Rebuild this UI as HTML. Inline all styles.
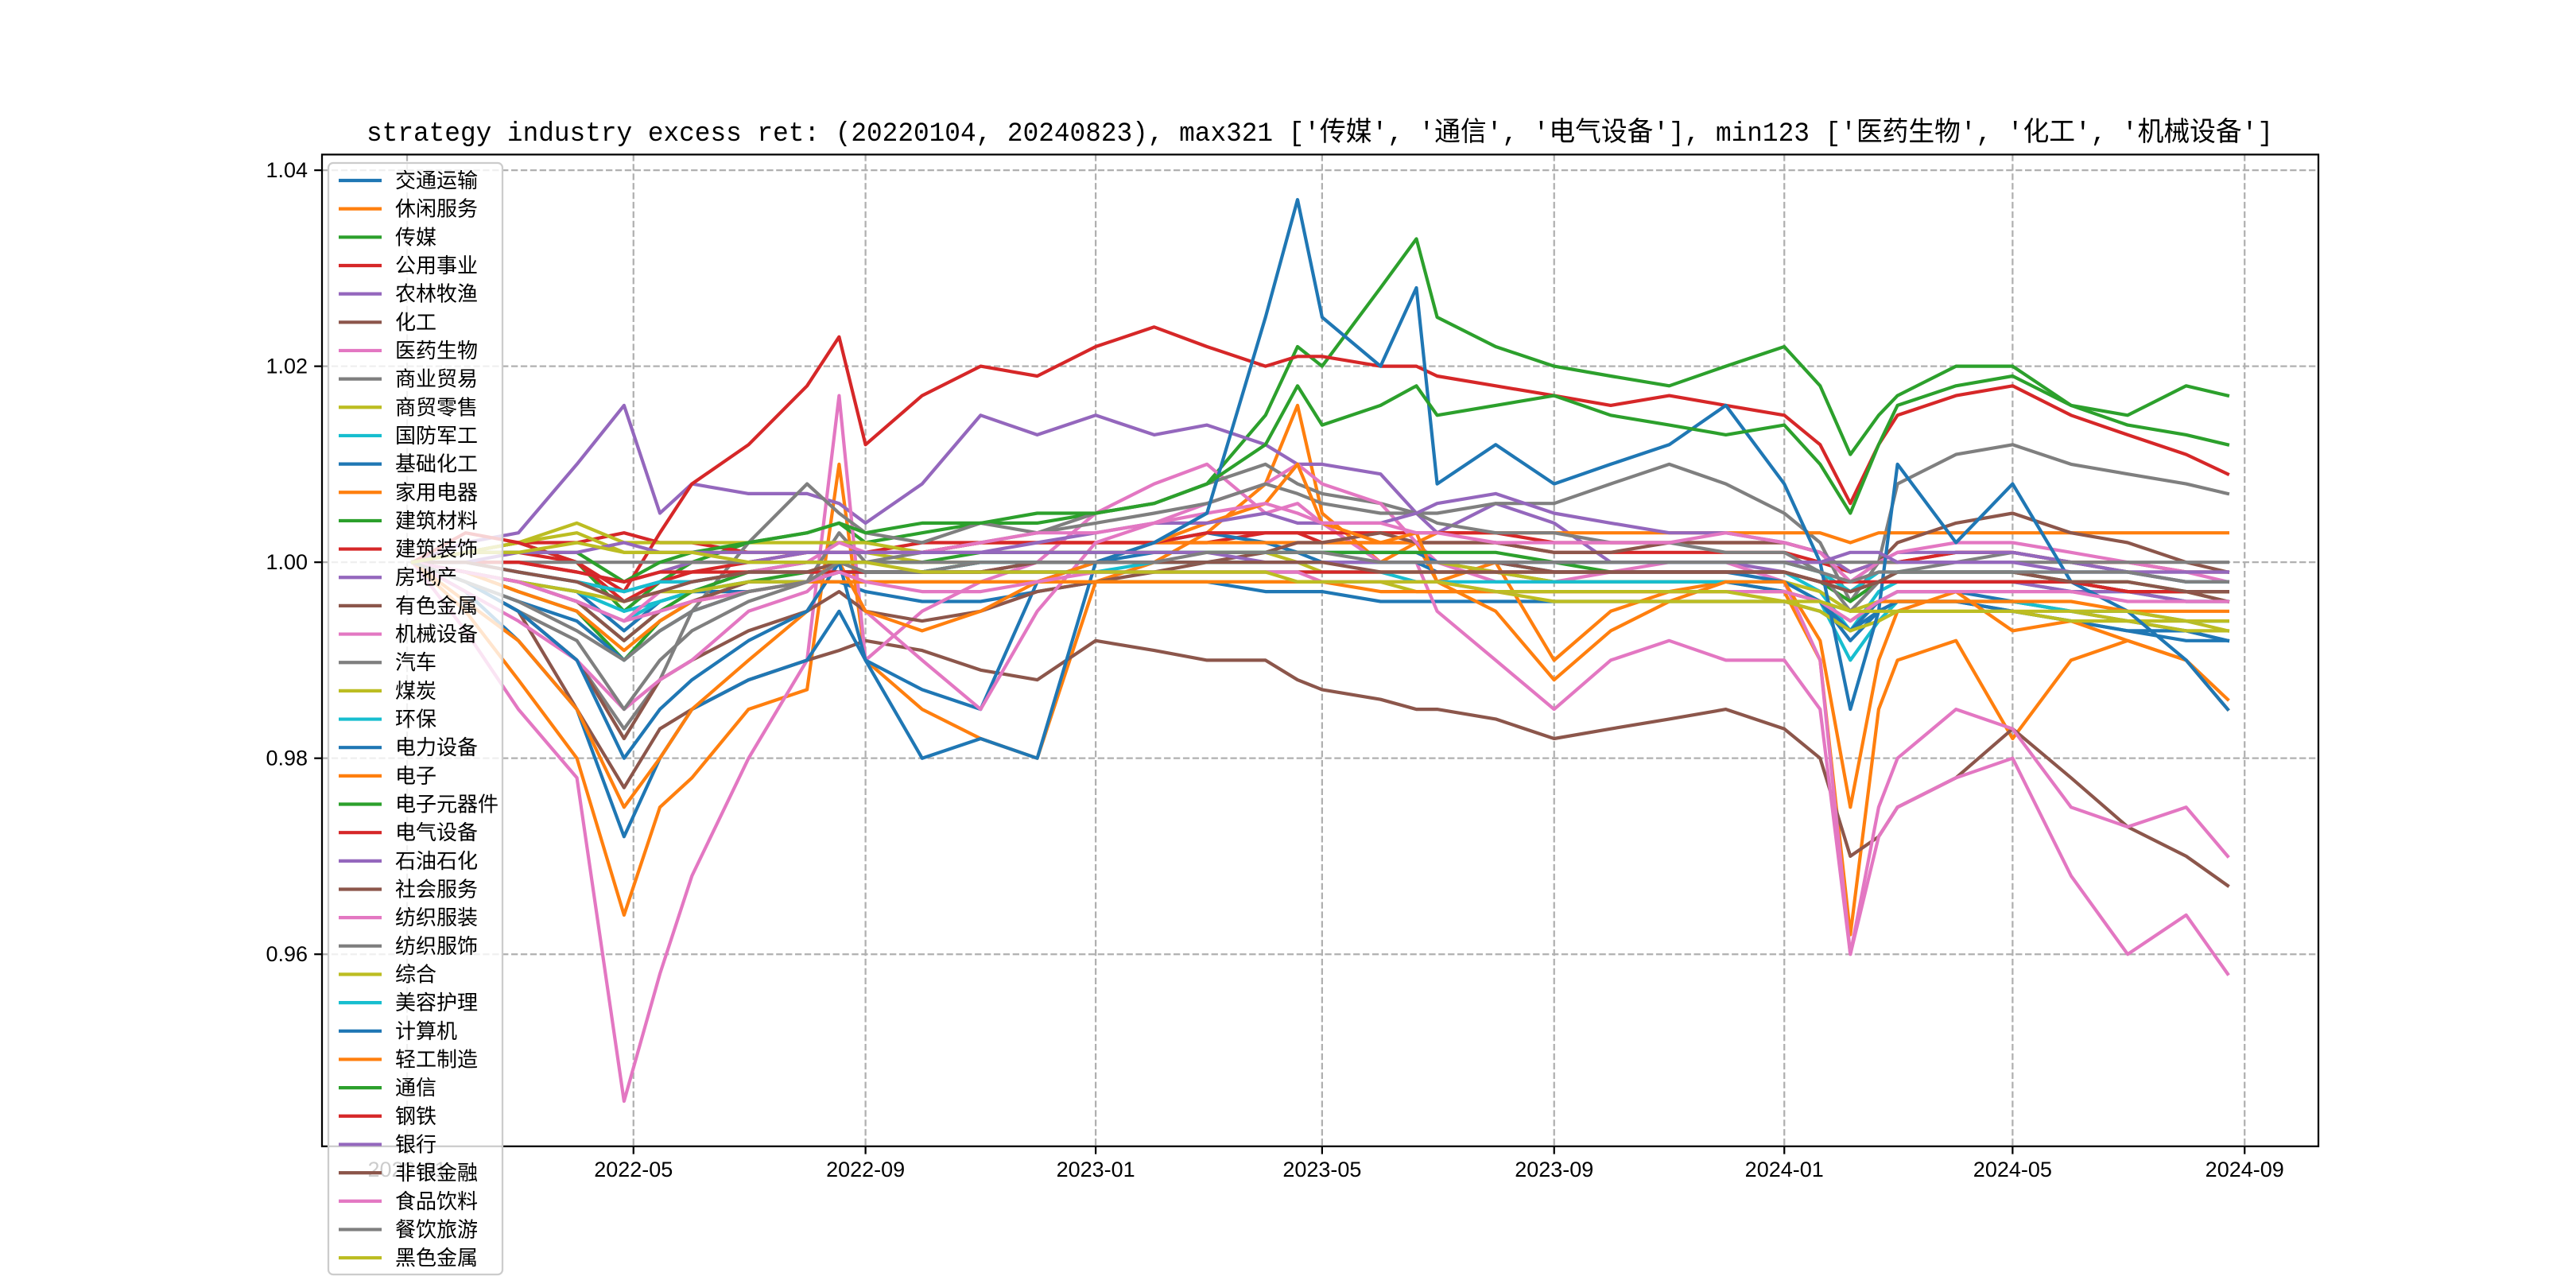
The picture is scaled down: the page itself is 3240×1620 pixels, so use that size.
<!DOCTYPE html>
<html><head><meta charset="utf-8">
<style>
html,body{margin:0;padding:0;background:#fff;}
svg{display:block;}
text{font-family:"Liberation Sans","Noto Sans CJK SC",sans-serif;}
</style></head>
<body>
<svg id="chart" width="3240" height="1620" viewBox="0 0 3240 1620" xmlns="http://www.w3.org/2000/svg">
<rect x="0" y="0" width="3240" height="1620" fill="#ffffff"/>
<text x="1660" y="177" text-anchor="middle" font-size="34" textLength="2398" lengthAdjust="spacingAndGlyphs" style='font-family:"Liberation Mono","Noto Sans CJK SC",monospace'>strategy industry excess ret: (20220104, 20240823), max321 ['传媒', '通信', '电气设备'], min123 ['医药生物', '化工', '机械设备']</text>
<g id="grid"></g>
<g id="lines"></g>
<g id="axes"></g>
<g id="legend"></g>
</svg>
<script>
const dates=["2022-01-04","2022-02-01","2022-03-01","2022-04-01","2022-04-26","2022-05-15","2022-06-01","2022-07-01","2022-08-01","2022-08-18","2022-09-01","2022-10-01","2022-11-01","2022-12-01","2023-01-01","2023-02-01","2023-03-01","2023-04-01","2023-04-18","2023-05-01","2023-06-01","2023-06-20","2023-07-01","2023-08-01","2023-09-01","2023-10-01","2023-11-01","2023-12-01","2024-01-01","2024-01-20","2024-02-05","2024-02-20","2024-03-01","2024-04-01","2024-05-01","2024-06-01","2024-07-01","2024-08-01","2024-08-23"];
const names=["交通运输","休闲服务","传媒","公用事业","农林牧渔","化工","医药生物","商业贸易","商贸零售","国防军工","基础化工","家用电器","建筑材料","建筑装饰","房地产","有色金属","机械设备","汽车","煤炭","环保","电力设备","电子","电子元器件","电气设备","石油石化","社会服务","纺织服装","纺织服饰","综合","美容护理","计算机","轻工制造","通信","钢铁","银行","非银金融","食品饮料","餐饮旅游","黑色金属"];
const yTicks=[0.96,0.98,1.00,1.02,1.04];
const yTickLabels=["0.96","0.98","1.00","1.02","1.04"];
const xTicks=["2022-01-01","2022-05-01","2022-09-01","2023-01-01","2023-05-01","2023-09-01","2024-01-01","2024-05-01","2024-09-01"];
const xTickLabels=["2022-01","2022-05","2022-09","2023-01","2023-05","2023-09","2024-01","2024-05","2024-09"];
const v00=[1.000,0.999,0.998,0.997,0.993,0.996,0.997,0.997,0.998,0.998,0.997,0.996,0.996,0.997,0.998,0.998,0.998,0.997,0.997,0.997,0.996,0.996,0.996,0.996,0.996,0.996,0.996,0.996,0.996,0.995,0.993,0.995,0.996,0.996,0.995,0.994,0.993,0.992,0.992];
const v01=[1.000,0.995,0.988,0.980,0.964,0.975,0.978,0.985,0.987,1.010,0.990,0.985,0.982,0.980,0.998,1.000,1.003,1.008,1.016,1.005,1.000,1.002,0.998,1.000,0.990,0.995,0.997,0.998,0.997,0.990,0.962,0.985,0.990,0.992,0.982,0.990,0.992,0.990,0.985];
const v02=[1.000,1.001,1.002,1.000,0.995,0.998,1.000,1.002,1.003,1.004,1.002,1.003,1.004,1.004,1.005,1.006,1.008,1.015,1.022,1.020,1.028,1.033,1.025,1.022,1.020,1.019,1.018,1.020,1.022,1.018,1.011,1.015,1.017,1.020,1.020,1.016,1.015,1.018,1.017];
const v03=[1.000,1.001,1.002,1.002,1.003,1.002,1.002,1.001,1.001,1.001,1.001,1.002,1.002,1.002,1.002,1.002,1.002,1.003,1.003,1.002,1.002,1.002,1.002,1.002,1.001,1.001,1.001,1.001,1.001,1.000,0.999,1.000,1.000,1.001,1.001,1.000,1.000,0.999,0.999];
const v04=[1.000,1.002,1.003,1.010,1.016,1.005,1.008,1.007,1.007,1.006,1.004,1.008,1.015,1.013,1.015,1.013,1.014,1.012,1.010,1.010,1.009,1.005,1.003,1.006,1.004,1.000,1.000,1.000,0.999,0.998,0.997,0.998,0.999,0.999,0.999,0.998,0.997,0.997,0.996];
const v05=[1.000,0.998,0.995,0.985,0.977,0.983,0.985,0.988,0.990,0.991,0.992,0.991,0.989,0.988,0.992,0.991,0.990,0.990,0.988,0.987,0.986,0.985,0.985,0.984,0.982,0.983,0.984,0.985,0.983,0.980,0.970,0.972,0.975,0.978,0.983,0.978,0.973,0.970,0.967];
const v06=[1.000,0.993,0.985,0.978,0.945,0.958,0.968,0.980,0.990,1.017,0.990,0.995,0.998,1.000,1.005,1.008,1.010,1.005,1.006,1.004,1.000,1.000,0.995,0.990,0.985,0.990,0.992,0.990,0.990,0.985,0.960,0.972,0.975,0.978,0.980,0.968,0.960,0.964,0.958];
const v07=[1.000,0.998,0.995,0.990,0.983,0.988,0.995,1.002,1.008,1.005,1.003,1.002,1.004,1.003,1.005,1.006,1.008,1.010,1.008,1.007,1.006,1.005,1.005,1.006,1.006,1.008,1.010,1.008,1.005,1.002,0.996,1.000,1.008,1.011,1.012,1.010,1.009,1.008,1.007];
const v08=[1.000,1.001,1.002,1.003,1.001,1.001,1.001,1.001,1.001,1.001,1.001,1.000,1.000,1.000,1.000,1.000,1.000,1.000,1.000,0.999,0.999,0.999,0.999,0.999,0.999,0.999,0.999,0.999,0.999,0.998,0.997,0.998,0.998,0.998,0.998,0.998,0.997,0.997,0.996];
const v09=[1.000,0.999,0.998,0.996,0.994,0.996,0.997,0.998,0.998,0.999,0.999,0.999,0.999,0.999,0.999,1.000,1.000,1.000,1.000,1.000,1.000,1.000,1.000,1.000,0.999,0.999,0.999,0.999,0.999,0.997,0.993,0.997,0.998,0.998,0.998,0.997,0.997,0.996,0.996];
const v10=[1.000,0.997,0.992,0.985,0.972,0.980,0.985,0.988,0.990,0.995,0.990,0.987,0.985,0.998,1.000,1.002,1.003,1.002,1.001,1.000,1.000,1.000,0.999,0.999,0.998,0.998,0.998,0.998,0.997,0.996,0.993,0.996,0.997,0.997,0.996,0.995,0.994,0.993,0.992];
const v11=[1.000,1.000,1.000,0.999,0.998,0.999,1.000,1.000,1.001,1.001,1.001,1.001,1.002,1.002,1.002,1.002,1.002,1.002,1.002,1.002,1.002,1.002,1.003,1.003,1.003,1.003,1.003,1.003,1.003,1.003,1.002,1.003,1.003,1.003,1.003,1.003,1.003,1.003,1.003];
const v12=[1.000,0.999,0.997,0.995,0.990,0.994,0.996,0.998,0.999,0.999,0.999,0.999,1.000,1.000,1.000,1.000,1.000,1.000,1.000,1.000,1.000,1.000,1.000,1.000,1.000,0.999,0.999,0.999,0.999,0.998,0.996,0.998,0.998,0.998,0.998,0.998,0.997,0.997,0.997];
const v13=[1.000,1.001,1.001,1.000,0.996,0.998,0.999,1.000,1.001,1.001,1.001,1.001,1.002,1.002,1.002,1.002,1.003,1.003,1.003,1.003,1.003,1.003,1.003,1.003,1.002,1.002,1.002,1.002,1.002,1.001,0.999,1.000,1.000,1.001,1.001,1.000,0.999,0.998,0.998];
const v14=[1.000,1.000,0.999,0.998,0.997,0.998,0.998,0.999,0.999,0.999,0.999,0.999,0.999,1.000,1.000,1.000,1.000,1.000,1.000,1.000,1.000,1.000,1.000,0.999,0.999,0.999,0.999,0.999,0.999,0.998,0.997,0.998,0.998,0.998,0.998,0.997,0.997,0.996,0.996];
const v15=[1.000,0.998,0.995,0.990,0.982,0.988,0.990,0.993,0.995,0.997,0.995,0.994,0.995,0.997,0.998,0.999,1.000,1.001,1.002,1.002,1.003,1.002,1.002,1.002,1.001,1.001,1.002,1.002,1.002,1.001,0.998,1.000,1.002,1.004,1.005,1.003,1.002,1.000,0.999];
const v16=[1.000,0.997,0.994,0.990,0.985,0.988,0.990,0.995,0.997,1.000,0.995,0.990,0.985,0.995,1.002,1.004,1.006,1.008,1.010,1.008,1.006,1.002,1.000,0.998,0.998,0.999,1.000,1.000,0.998,0.990,0.960,0.975,0.980,0.985,0.983,0.975,0.973,0.975,0.970];
const v17=[1.000,0.998,0.995,0.992,0.985,0.990,0.993,0.996,0.998,1.003,1.000,1.001,1.002,1.003,1.004,1.005,1.006,1.008,1.007,1.006,1.005,1.005,1.004,1.003,1.003,1.002,1.002,1.001,1.001,0.999,0.995,0.998,0.999,1.000,1.001,1.000,0.999,0.999,0.999];
const v18=[1.000,1.001,1.002,1.004,1.002,1.002,1.002,1.002,1.002,1.002,1.002,1.001,1.001,1.001,1.001,1.001,1.001,1.001,1.000,1.000,1.000,1.000,1.000,0.999,0.998,0.998,0.998,0.998,0.998,0.997,0.995,0.996,0.996,0.996,0.996,0.995,0.994,0.994,0.993];
const v19=[1.000,0.999,0.998,0.997,0.995,0.996,0.997,0.998,0.998,0.999,0.999,0.999,0.999,0.999,0.999,0.999,0.999,0.999,0.999,0.999,0.999,0.998,0.998,0.998,0.998,0.998,0.998,0.998,0.998,0.996,0.990,0.994,0.996,0.996,0.996,0.995,0.995,0.994,0.994];
const v20=[1.000,0.998,0.996,0.994,0.990,0.993,0.995,0.997,0.998,0.999,0.999,0.999,1.000,1.000,1.000,1.001,1.001,1.001,1.001,1.001,1.001,1.001,1.000,1.000,0.999,0.999,0.999,0.999,0.998,0.996,0.992,0.995,0.996,0.996,0.995,0.994,0.993,0.993,0.992];
const v21=[1.000,0.996,0.992,0.985,0.975,0.980,0.985,0.990,0.995,1.000,0.995,0.993,0.995,0.998,1.000,1.002,1.004,1.006,1.010,1.004,1.002,1.003,0.998,0.995,0.988,0.993,0.996,0.998,0.998,0.992,0.975,0.990,0.995,0.997,0.993,0.994,0.992,0.990,0.986];
const v22=[1.000,0.999,0.998,0.996,0.992,0.995,0.997,0.999,1.000,1.000,1.000,1.000,1.001,1.001,1.001,1.001,1.001,1.001,1.001,1.001,1.001,1.001,1.001,1.001,1.000,1.000,1.000,1.000,1.000,0.999,0.997,0.998,0.999,0.999,0.999,0.998,0.998,0.997,0.997];
const v23=[1.000,1.003,1.002,1.000,0.997,1.003,1.008,1.012,1.018,1.023,1.012,1.017,1.020,1.019,1.022,1.024,1.022,1.020,1.021,1.021,1.020,1.020,1.019,1.018,1.017,1.016,1.017,1.016,1.015,1.012,1.006,1.012,1.015,1.017,1.018,1.015,1.013,1.011,1.009];
const v24=[1.000,1.000,1.000,0.999,0.998,0.999,1.000,1.000,1.001,1.001,1.001,1.001,1.001,1.002,1.003,1.004,1.004,1.005,1.004,1.004,1.004,1.005,1.006,1.007,1.005,1.004,1.003,1.003,1.002,1.001,0.999,1.000,1.001,1.001,1.001,1.000,0.999,0.998,0.998];
const v25=[1.000,0.999,0.998,0.996,0.992,0.995,0.996,0.998,0.998,0.999,0.999,0.999,0.999,1.000,1.000,1.000,1.000,1.000,1.000,1.000,1.000,1.000,1.000,1.000,0.999,0.999,0.999,0.999,0.999,0.998,0.997,0.998,0.998,0.998,0.998,0.998,0.997,0.997,0.996];
const v26=[1.000,0.999,0.998,0.996,0.994,0.997,0.998,0.999,1.000,1.002,1.001,1.001,1.002,1.003,1.003,1.004,1.005,1.006,1.005,1.004,1.004,1.003,1.003,1.002,1.002,1.002,1.002,1.003,1.002,1.001,0.998,1.000,1.001,1.002,1.002,1.001,1.000,0.999,0.998];
const v27=[1.000,1.000,1.000,1.000,1.000,1.000,1.000,1.000,1.000,1.000,1.000,1.000,1.000,1.000,1.000,1.000,1.000,1.000,1.000,1.000,1.000,1.000,1.000,1.000,1.000,1.000,1.000,1.000,1.000,1.000,1.000,1.000,1.000,1.000,1.000,1.000,1.000,1.000,1.000];
const v28=[1.000,0.999,0.998,0.997,0.996,0.997,0.997,0.998,0.998,0.998,0.998,0.998,0.998,0.998,0.998,0.998,0.998,0.998,0.998,0.998,0.998,0.997,0.997,0.997,0.996,0.996,0.996,0.996,0.996,0.995,0.993,0.994,0.995,0.995,0.995,0.994,0.994,0.993,0.993];
const v29=[1.000,1.000,0.999,0.998,0.997,0.998,0.998,0.999,0.999,0.999,0.999,0.999,1.000,1.000,1.000,1.000,1.000,1.000,1.000,1.000,1.000,1.000,1.000,1.000,1.000,1.000,1.000,1.000,1.000,0.999,0.997,0.999,0.999,0.999,0.999,0.999,0.999,0.998,0.998];
const v30=[1.000,0.998,0.995,0.990,0.980,0.985,0.988,0.992,0.995,1.000,0.990,0.980,0.982,0.980,1.000,1.002,1.005,1.025,1.037,1.025,1.020,1.028,1.008,1.012,1.008,1.010,1.012,1.016,1.008,1.000,0.985,0.995,1.010,1.002,1.008,0.998,0.995,0.990,0.985];
const v31=[1.000,0.999,0.997,0.995,0.991,0.994,0.996,0.997,0.998,0.998,0.998,0.998,0.998,0.998,0.998,0.998,0.998,0.998,0.998,0.998,0.997,0.997,0.997,0.997,0.997,0.997,0.997,0.997,0.997,0.996,0.994,0.996,0.996,0.996,0.996,0.996,0.995,0.995,0.995];
const v32=[1.000,1.001,1.001,1.001,0.998,1.000,1.001,1.002,1.003,1.004,1.003,1.004,1.004,1.005,1.005,1.006,1.008,1.012,1.018,1.014,1.016,1.018,1.015,1.016,1.017,1.015,1.014,1.013,1.014,1.010,1.005,1.012,1.016,1.018,1.019,1.016,1.014,1.013,1.012];
const v33=[1.000,1.000,1.000,0.999,0.998,0.999,0.999,0.999,0.999,0.999,0.999,0.999,0.999,0.999,0.999,0.999,0.999,0.999,0.999,0.999,0.999,0.999,0.999,0.999,0.999,0.999,0.999,0.999,0.999,0.998,0.998,0.998,0.998,0.998,0.998,0.998,0.997,0.997,0.997];
const v34=[1.000,1.000,1.001,1.001,1.002,1.001,1.001,1.001,1.001,1.001,1.001,1.001,1.001,1.001,1.001,1.001,1.001,1.000,1.000,1.000,1.000,1.000,1.000,1.000,1.000,1.000,1.000,1.000,1.000,1.000,1.001,1.001,1.000,1.000,1.000,0.999,0.999,0.999,0.999];
const v35=[1.000,1.000,0.999,0.998,0.996,0.997,0.998,0.999,0.999,1.000,0.999,0.999,0.999,1.000,1.000,1.000,1.000,1.000,1.000,1.000,0.999,0.999,0.999,0.999,0.999,0.999,0.999,0.999,0.999,0.998,0.997,0.998,0.999,0.999,0.999,0.998,0.998,0.997,0.997];
const v36=[1.000,0.999,0.998,0.996,0.994,0.995,0.996,0.997,0.998,0.999,0.998,0.997,0.997,0.998,0.999,0.999,0.999,0.999,0.999,0.998,0.998,0.998,0.998,0.997,0.997,0.997,0.997,0.997,0.997,0.996,0.994,0.996,0.997,0.997,0.997,0.997,0.996,0.996,0.996];
const v37=[1.000,0.998,0.996,0.993,0.990,0.993,0.995,0.997,0.998,1.000,0.999,0.999,1.000,1.000,1.000,1.000,1.001,1.001,1.001,1.001,1.000,1.000,1.000,1.000,1.000,1.000,1.000,1.000,1.000,0.999,0.998,0.999,0.999,0.999,0.999,0.999,0.999,0.998,0.998];
const v38=[1.000,1.001,1.001,1.002,1.001,1.001,1.001,1.000,1.000,1.000,1.000,0.999,0.999,0.999,0.999,0.999,0.999,0.999,0.998,0.998,0.998,0.998,0.998,0.997,0.997,0.997,0.997,0.997,0.996,0.996,0.995,0.995,0.995,0.995,0.995,0.995,0.995,0.994,0.994];
const seriesList=[v00,v01,v02,v03,v04,v05,v06,v07,v08,v09,v10,v11,v12,v13,v14,v15,v16,v17,v18,v19,v20,v21,v22,v23,v24,v25,v26,v27,v28,v29,v30,v31,v32,v33,v34,v35,v36,v37,v38];

const NS="http://www.w3.org/2000/svg";
const palette=["#1f77b4","#ff7f0e","#2ca02c","#d62728","#9467bd","#8c564b","#e377c2","#7f7f7f","#bcbd22","#17becf"];
const AX={l:405,r:2916,t:194.4,b:1441.8};
function dayNum(s){const p=s.split("-");return Date.UTC(+p[0],+p[1]-1,+p[2])/86400000;}
const d0=dayNum(dates[0]), d1=dayNum(dates[dates.length-1]);
const dPad=(d1-d0)*0.05;
function xScale(s){return AX.l+(dayNum(s)-(d0-dPad))/((d1+dPad)-(d0-dPad))*(AX.r-AX.l);}
let allV=[];seriesList.forEach(a=>allV=allV.concat(a));
const vMin=Math.min(...allV), vMax=Math.max(...allV), vPad=(vMax-vMin)*0.05;
const yLo=vMin-vPad, yHi=vMax+vPad;
function yScale(v){return AX.b-(v-yLo)/(yHi-yLo)*(AX.b-AX.t);}
function mk(tag,attrs,parent){const e=document.createElementNS(NS,tag);for(const k in attrs)e.setAttribute(k,attrs[k]);parent.appendChild(e);return e;}

const grid=document.getElementById("grid");
const lines=document.getElementById("lines");
const axes=document.getElementById("axes");
const legend=document.getElementById("legend");

xTicks.forEach((t,i)=>{
  const x=xScale(t);
  const g=mk("line",{x1:x,x2:x,y1:AX.t,y2:AX.b,stroke:"#b0b0b0","stroke-width":2.25,"stroke-dasharray":"8.3 3.6"},grid);
  
  
  const tk=mk("line",{x1:x,x2:x,y1:AX.b,y2:AX.b+9.8,stroke:"#000","stroke-width":2.25},axes);
  
  
  const lb=mk("text",{x:x,y:AX.b+38,"text-anchor":"middle","font-size":27,fill:"#000"},axes);
  lb.textContent=xTickLabels[i];
  
  
});
yTicks.forEach((t,i)=>{
  const y=yScale(t);
  const g=mk("line",{x1:AX.l,x2:AX.r,y1:y,y2:y,stroke:"#b0b0b0","stroke-width":2.25,"stroke-dasharray":"8.3 3.6"},grid);
  
  
  const tk=mk("line",{x1:AX.l-9.8,x2:AX.l,y1:y,y2:y,stroke:"#000","stroke-width":2.25},axes);
  
  
  const lb=mk("text",{x:AX.l-18,y:y+9,"text-anchor":"end","font-size":27,fill:"#000"},axes);
  lb.textContent=yTickLabels[i];
  
  
});
const frame=mk("rect",{x:AX.l,y:AX.t,width:AX.r-AX.l,height:AX.b-AX.t,fill:"none",stroke:"#000","stroke-width":2.25},axes);



seriesList.forEach((vals,si)=>{
  const n=Math.min(vals.length,dates.length);
  let d="";
  for(let i=0;i<n;i++){d+=(i?"L":"M")+xScale(dates[i]).toFixed(1)+","+yScale(vals[i]).toFixed(1);}
  const p=mk("path",{d:d,fill:"none",stroke:palette[si%10],"stroke-width":4.2,"stroke-linejoin":"round","stroke-linecap":"square"},lines);
  
  
});

const LG={x:413,y:205,w:219,h:1398,first:227,step:35.66};
const lbox=mk("rect",{x:LG.x,y:LG.y,width:LG.w,height:LG.h,rx:6,ry:6,fill:"#ffffff","fill-opacity":0.8,stroke:"#cccccc","stroke-width":2.25},legend);


names.forEach((nm,i)=>{
  const y=LG.first+i*LG.step;
  const h=mk("line",{x1:426,x2:480,y1:y,y2:y,stroke:palette[i%10],"stroke-width":4.2},legend);
  
  
  const t=mk("text",{x:497,y:y+9,"font-size":26,fill:"#000"},legend);
  t.textContent=nm;
  
  
});
</script>
</body></html>
